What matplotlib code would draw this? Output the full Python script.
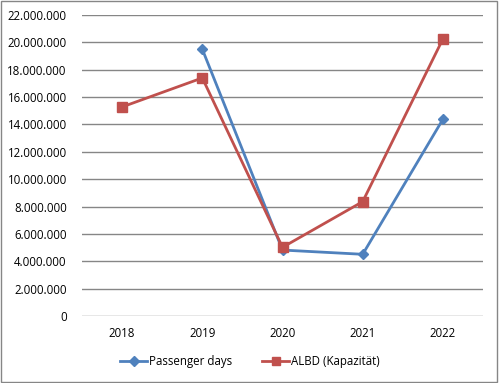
import matplotlib
matplotlib.use("Agg")
import matplotlib.pyplot as plt
from matplotlib.ticker import FuncFormatter, MultipleLocator
from matplotlib.patches import Rectangle

years = ["2018", "2019", "2020", "2021", "2022"]
passenger_days = [None, 19500000, 4820000, 4510000, 14380000]
albd = [15280000, 17400000, 5020000, 8360000, 20250000]

plt.rcParams['font.family'] = ['Open Sans', 'DejaVu Sans']

fig = plt.figure(figsize=(4.99, 3.83), dpi=100)
ax = fig.add_axes([82 / 499, 1 - 316 / 383, (483 - 82) / 499, (316 - 15) / 383])

x = list(range(len(years)))
px = [i for i, v in zip(x, passenger_days) if v is not None]
pv = [v for v in passenger_days if v is not None]

ax.plot(px, pv, color="#4F81BD", lw=2.0, marker="D", ms=5.5, label="Passenger days", zorder=3)
ax.plot(x, albd, color="#C0504D", lw=2.0, marker="s", ms=7, label="ALBD (Kapazität)", zorder=4)

ax.set_xlim(-0.5, 4.5)
ax.set_ylim(0, 22000000)
ax.yaxis.set_major_locator(MultipleLocator(2000000))
ax.yaxis.set_major_formatter(FuncFormatter(lambda v, p: f"{int(v):,}".replace(",", ".")))
ax.set_xticks(x)
ax.set_xticklabels(years)
ax.grid(axis="y", color="#868686", lw=1.0)
ax.set_axisbelow(True)
for s in ax.spines.values():
    s.set_visible(False)
ax.tick_params(length=0, labelsize=8.3, colors="black")
ax.tick_params(axis="y", pad=11)
ax.tick_params(axis="x", pad=8)

fig.legend(loc="center", bbox_to_anchor=(0.5, 1 - 362 / 383), ncol=2, frameon=False,
           fontsize=8.3, handlelength=2.4, columnspacing=2.6, handletextpad=0.1,
           markerscale=0.85)

fig.patches.append(Rectangle((0.002, 0.003), 0.994, 0.994, transform=fig.transFigure,
                             fill=False, edgecolor="#868686", lw=1.0))

fig.savefig("out.png", dpi=100)
